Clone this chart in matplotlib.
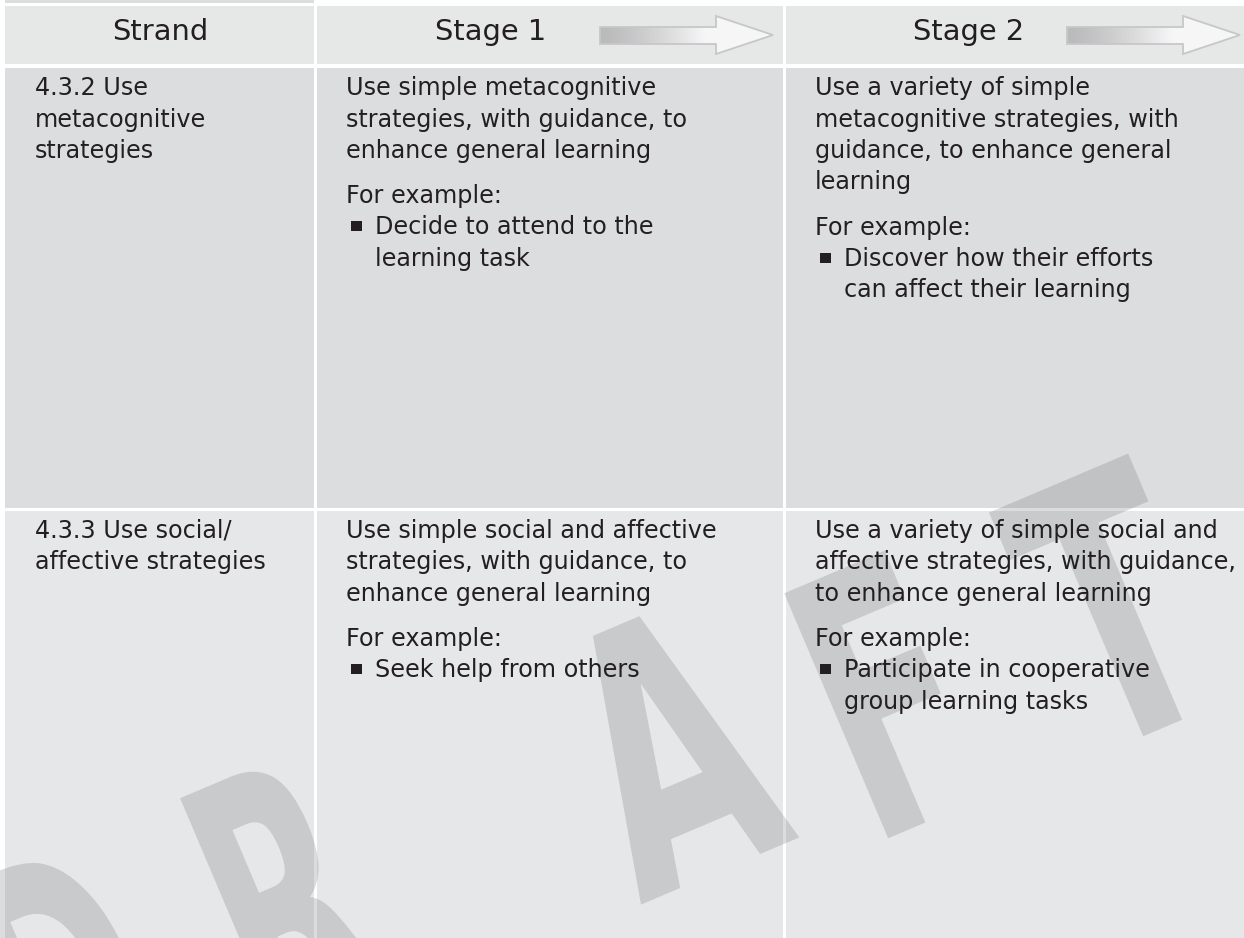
import numpy as np
import matplotlib.pyplot as plt
from matplotlib.patches import Rectangle, Polygon, PathPatch
from matplotlib.textpath import TextPath
from matplotlib.font_manager import FontProperties
from matplotlib.transforms import Affine2D

W, H = 1244, 938

# table content
headers = ["Strand", "Stage 1", "Stage 2"]
strands = [["4.3.2 Use", "metacognitive", "strategies"],
           ["4.3.3 Use social/", "affective strategies"]]
stage1 = [["Use simple metacognitive", "strategies, with guidance, to", "enhance general learning"],
          ["Use simple social and affective", "strategies, with guidance, to", "enhance general learning"]]
stage1_examples = [["Decide to attend to the", "learning task"],
                   ["Seek help from others"]]
stage2 = [["Use a variety of simple", "metacognitive strategies, with", "guidance, to enhance general", "learning"],
          ["Use a variety of simple social and", "affective strategies, with guidance,", "to enhance general learning"]]
stage2_examples = [["Discover how their efforts", "can affect their learning"],
                   ["Participate in cooperative", "group learning tasks"]]
watermark = "DRAFT"

# layout (pixels)
col_x = [5, 317, 786]
col_w = [309, 466, 458]
row_y = [6, 68, 511]
row_h = [58, 440, 427]
row_colors = ['#e6e7e7', '#dcdddf', '#e6e7e8']
text_x = [35, 346, 815]
header_x = [112, 435, 913]
txt_color = '#231f20'
fs = 17.2
lh = 31.5

fig = plt.figure(figsize=(W / 100, H / 100), dpi=100)
ax = fig.add_axes([0, 0, 1, 1])
ax.axis('off')

# little tab strip on top
ax.add_patch(Rectangle((5, 0), 309, 3, color='#dcdddf', lw=0))

for r in range(3):
    for c in range(3):
        ax.add_patch(Rectangle((col_x[c], row_y[r]), col_w[c], row_h[r],
                               color=row_colors[r], lw=0, zorder=1))

# header
for c, h in enumerate(headers):
    ax.text(header_x[c], 40, h, fontsize=20.8, color=txt_color,
            va='baseline', ha='left', zorder=5)

# arrows with gradient
for x0, xb, xt in [(600, 716, 773), (1067, 1183, 1240)]:
    pts = [(x0, 27), (xb, 27), (xb, 16), (xt, 35), (xb, 54), (xb, 44), (x0, 44)]
    poly = Polygon(pts, closed=True, facecolor='none', edgecolor='#c6c7c8',
                   lw=1.3, zorder=4)
    ax.add_patch(poly)
    t = np.linspace(0, 1, 200)
    v = np.clip(0.73 + 0.24 * (t / 0.62) ** 1.3, 0, 0.965)
    img = np.dstack([v, v, v + 0.005]).clip(0, 1)
    im = ax.imshow(img, extent=(x0, xt, 54, 16), aspect='auto', zorder=3,
                   interpolation='bilinear')
    im.set_clip_path(poly)

# watermark letters: baseline-left point (image coords) and width scale
fp = FontProperties(family='DejaVu Sans', weight='bold')
wm_pos = [(45, 1140), (268, 1050), (640, 905), (870, 846), (1092, 758)]
wm_sx = [190, 190, 225, 215, 225]
for ch, (bx, by), sx in zip(watermark, wm_pos, wm_sx):
    tp = TextPath((0, 0), ch, size=1, prop=fp)
    tr = Affine2D().scale(sx, -365).rotate_deg(-23).translate(bx, by)
    ax.add_patch(PathPatch(tr.transform_path(tp), facecolor='#6d6e70',
                           edgecolor='none', alpha=0.24, zorder=2))


def draw_cell(x, y0, lines, examples=None):
    y = y0
    for ln in lines:
        ax.text(x, y, ln, fontsize=fs, color=txt_color, va='baseline', zorder=5)
        y += lh
    if examples is None:
        return
    y += 45 - lh
    ax.text(x, y, "For example:", fontsize=fs, color=txt_color, va='baseline', zorder=5)
    y += lh
    ax.add_patch(Rectangle((x + 5, y - 13), 11, 10, color=txt_color, lw=0, zorder=5))
    for ln in examples:
        ax.text(x + 29, y, ln, fontsize=fs, color=txt_color, va='baseline', zorder=5)
        y += lh


for r in range(2):
    y0 = row_y[r + 1] + 27
    draw_cell(text_x[0], y0, strands[r])
    draw_cell(text_x[1], y0, stage1[r], stage1_examples[r])
    draw_cell(text_x[2], y0, stage2[r], stage2_examples[r])

ax.set_xlim(0, W)
ax.set_ylim(H, 0)
fig.savefig('out.png', dpi=100, facecolor='white')
